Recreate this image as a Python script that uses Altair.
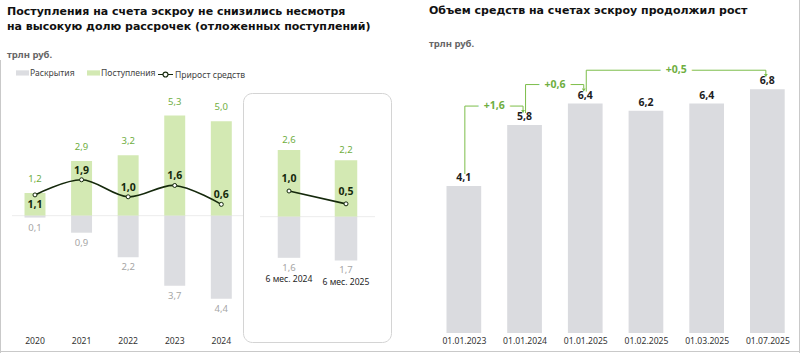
import altair as alt
import pandas as pd

# ---------------- data ----------------
years = ["2020", "2021", "2022", "2023", "2024"]
inflows = [1.2, 2.9, 3.2, 5.3, 5.0]
disclosures = [0.1, 0.9, 2.2, 3.7, 4.4]
net_growth = [1.1, 1.9, 1.0, 1.6, 0.6]

half_periods = ["6 мес. 2024", "6 мес. 2025"]
half_inflows = [2.6, 2.2]
half_disclosures = [1.6, 1.7]
half_growth = [1.0, 0.5]

dates = ["01.01.2023", "01.01.2024", "01.01.2025", "01.02.2025", "01.03.2025", "01.07.2025"]
balances = [4.1, 5.8, 6.4, 6.2, 6.4, 6.8]
change_from = ["01.01.2023", "01.01.2024", "01.01.2025"]
change_to = ["01.01.2024", "01.01.2025", "01.07.2025"]
change_text = ["+1,6", "+0,6", "+0,5"]

left_title = ["Поступления на счета эскроу не снизились несмотря",
              "на высокую долю рассрочек (отложенных поступлений)"]
right_title = ["Объем средств на счетах эскроу продолжил рост"]
unit_text = "трлн руб."
series_names = ["Раскрытия", "Поступления", "Прирост средств"]

# ---------------- style ----------------
FONT = "Noto Sans"
TITLE_FONT = "DejaVu Sans"
GREEN_BAR = "#d3e9b3"
GRAY_BAR = "#dcdde1"
GREEN_TXT = "#6fae3f"
GREEN_LINE = "#7cbd4a"
GRAY_TXT = "#a6a6a6"
DARK = "#15290c"
TXT = "#1e1e1e"
AXIS_TXT = "#333333"
LBL = 9.5


def fmt(v):
    return f"{abs(v):.1f}".replace(".", ",")


# ---------------- tables ----------------
def bar_table(cats, pos, neg):
    rows = []
    for c, p, n in zip(cats, pos, neg):
        rows.append({"cat": c, "type": series_names[1], "value": p, "label": fmt(p)})
        rows.append({"cat": c, "type": series_names[0], "value": -n, "label": fmt(n)})
    return pd.DataFrame(rows)


years_bars = bar_table(years, inflows, disclosures)
years_line = pd.DataFrame({"cat": years, "value": net_growth, "series": series_names[2],
                           "label": [fmt(v) for v in net_growth]})
half_bars = bar_table(half_periods, half_inflows, half_disclosures)
half_line = pd.DataFrame({"cat": half_periods, "value": half_growth, "series": series_names[2],
                          "label": [fmt(v) for v in half_growth]})
half_names = pd.DataFrame({"cat": half_periods, "value": [-d for d in half_disclosures]})

bal = pd.DataFrame({"idx": list(range(len(dates))), "date": dates, "value": balances,
                    "label": [fmt(v) for v in balances]})
fi = [dates.index(d) for d in change_from]
ti = [dates.index(d) for d in change_to]
brackets = pd.DataFrame({
    "from_idx": fi, "to_idx": ti,
    "mid": [(a + b) / 2 for a, b in zip(fi, ti)],
    "v_from": [balances[i] for i in fi],
    "v_to": [balances[i] for i in ti],
    "v_max": [max(balances[a], balances[b]) for a, b in zip(fi, ti)],
    "text": change_text,
})

one = pd.DataFrame({"k": [0]})
zero = pd.DataFrame({"value": [0.0]})

# ---------------- shared encodings ----------------
color_enc = alt.Color("type:N",
                      scale=alt.Scale(domain=series_names[:2], range=[GRAY_BAR, GREEN_BAR]),
                      legend=alt.Legend(orient="none", legendX=16, legendY=66, direction="horizontal",
                                        title=None, symbolType="M-1,-0.4H1V0.4H-1Z", symbolSize=169,
                                        symbolStrokeWidth=0, labelFont=FONT, labelFontSize=8.6,
                                        labelColor="#444444", labelOffset=1, columnPadding=12))
stroke_enc = alt.Stroke("series:N",
                        scale=alt.Scale(domain=[series_names[2]], range=[DARK]),
                        legend=alt.Legend(orient="none", legendX=157, legendY=66, title=None,
                                          symbolType="M-1,0H-0.33M0.33,0H1M-0.33,0A0.33,0.33,0,1,1,0.33,0A0.33,0.33,0,1,1,-0.33,0Z",
                                          symbolSize=225, symbolFillColor="white", symbolStrokeColor=DARK,
                                          symbolStrokeWidth=1.2, labelFont=FONT, labelFontSize=8.6,
                                          labelColor="#444444", labelOffset=1))

# ---------------- group A: years ----------------
XA = alt.X("cat:N", sort=years,
           scale=alt.Scale(range=[11.7, 244.6], paddingInner=0.55, paddingOuter=0.275),
           axis=alt.Axis(orient="bottom", title=None, labelAngle=0, ticks=False, domain=False,
                         grid=False, labelPadding=3, labelFont=FONT, labelFontSize=8.6,
                         labelColor=AXIS_TXT))
YA = alt.Y("value:Q", scale=alt.Scale(domain=[-5, 6], range=[310.2, 102.3], nice=False, zero=False),
           axis=None)

a_bars = alt.Chart(years_bars).mark_bar().encode(x=XA, y=YA, color=color_enc)
a_zero = alt.Chart(zero).mark_rule(color="#ececec", strokeWidth=1).encode(
    x=alt.value(12), x2=alt.value(243), y=YA)
a_pos_lbl = alt.Chart(years_bars).transform_filter(alt.datum.type == series_names[1]).mark_text(
    baseline="bottom", dy=-9, color=GREEN_TXT, font=FONT, fontSize=LBL).encode(x=XA, y=YA, text="label:N")
a_neg_lbl = alt.Chart(years_bars).transform_filter(alt.datum.type == series_names[0]).mark_text(
    baseline="top", dy=5, color=GRAY_TXT, font=FONT, fontSize=LBL).encode(x=XA, y=YA, text="label:N")
a_line = alt.Chart(years_line).mark_line(interpolate="catmull-rom", strokeWidth=1.6).encode(
    x=XA, y=YA, stroke=stroke_enc)
a_pts = alt.Chart(years_line).mark_point(filled=True, fill="white", stroke=DARK, strokeWidth=1,
                                         size=16, opacity=1).encode(x=XA, y=YA)
a_gl_up = alt.Chart(years_line).transform_filter(alt.datum.cat != years[0]).mark_text(
    baseline="bottom", dy=-4, color=DARK, font=FONT, fontSize=10.5, fontWeight="bold").encode(
    x=XA, y=YA, text="label:N")
a_gl_dn = alt.Chart(years_line).transform_filter(alt.datum.cat == years[0]).mark_text(
    baseline="top", dy=5, color=DARK, font=FONT, fontSize=10.5, fontWeight="bold").encode(
    x=XA, y=YA, text="label:N")
group_a = alt.layer(a_zero, a_bars, a_pos_lbl, a_neg_lbl, a_line, a_pts, a_gl_up, a_gl_dn)

# ---------------- group B: half-year box ----------------
XB = alt.X("cat:N", sort=half_periods,
           scale=alt.Scale(range=[260.5, 374.5], paddingInner=0.605, paddingOuter=0.3025),
           axis=None)
YB = alt.Y("value:Q", scale=alt.Scale(domain=[-2, 3], range=[268.1, 139.6], nice=False, zero=False),
           axis=None)

b_box = alt.Chart(one).mark_rect(fill="white", fillOpacity=0, stroke="#d4d4d4", strokeWidth=1,
                                 cornerRadius=9).encode(
    x=alt.value(243.5), x2=alt.value(391.5), y=alt.value(93.5), y2=alt.value(342.5))
b_zero = alt.Chart(zero).mark_rule(color="#ececec", strokeWidth=1).encode(
    x=alt.value(260), x2=alt.value(375), y=YB)
b_bars = alt.Chart(half_bars).mark_bar().encode(x=XB, y=YB, color=color_enc)
b_pos_lbl = alt.Chart(half_bars).transform_filter(alt.datum.type == series_names[1]).mark_text(
    baseline="bottom", dy=-5, color=GREEN_TXT, font=FONT, fontSize=LBL).encode(x=XB, y=YB, text="label:N")
b_neg_lbl = alt.Chart(half_bars).transform_filter(alt.datum.type == series_names[0]).mark_text(
    baseline="top", dy=5, color=GRAY_TXT, font=FONT, fontSize=LBL).encode(x=XB, y=YB, text="label:N")
b_names = alt.Chart(half_names).mark_text(baseline="top", dy=17.5, color=TXT, font=FONT,
                                          fontSize=8.6).encode(x=XB, y=YB, text="cat:N")
b_line = alt.Chart(half_line).mark_line(strokeWidth=1.6).encode(x=XB, y=YB, stroke=stroke_enc)
b_pts = alt.Chart(half_line).mark_point(filled=True, fill="white", stroke=DARK, strokeWidth=1,
                                        size=16, opacity=1).encode(x=XB, y=YB)
b_gl = alt.Chart(half_line).mark_text(baseline="bottom", dy=-7, color=DARK, font=FONT, fontSize=10.5,
                                      fontWeight="bold").encode(x=XB, y=YB, text="label:N")
group_b = alt.layer(b_box, b_zero, b_bars, b_pos_lbl, b_neg_lbl, b_names, b_line, b_pts, b_gl)

# ---------------- group C: balances ----------------
label_expr = "[" + ",".join(f"'{d}'" for d in dates) + "][datum.value]"
XC_SCALE = alt.Scale(domain=[-0.5, len(dates) - 0.5], range=[428.5, 802.7], nice=False, zero=False)
XC_AXIS = alt.Axis(orient="bottom", values=list(range(len(dates))), labelExpr=label_expr, title=None,
                   ticks=False, domain=False, grid=False, labelFlush=False, labelOverlap=False,
                   labelPadding=3, labelFont=FONT, labelFontSize=8.6, labelColor=AXIS_TXT)


def xc(field):
    return alt.X(f"{field}:Q", scale=XC_SCALE, axis=XC_AXIS)


def yc(field):
    return alt.Y(f"{field}:Q", scale=alt.Scale(domain=[0, 8], range=[333, 46.2], nice=False), axis=None)


c_bars = alt.Chart(bal).mark_bar(width=34.7, color="#dadbdf").encode(x=xc("idx"), y=yc("value"))
c_lbl = alt.Chart(bal).mark_text(baseline="bottom", dy=-3, color=TXT, font=FONT, fontSize=10.5,
                                 fontWeight="bold").encode(x=xc("idx"), y=yc("value"), text="label:N")
c_up = alt.Chart(brackets).mark_rule(color=GREEN_LINE, strokeWidth=1, xOffset=1, yOffset=-12,
                                     y2Offset=-19).encode(x=xc("from_idx"), y=yc("v_from"), y2="v_max:Q")
c_h = alt.Chart(brackets).mark_rule(color=GREEN_LINE, strokeWidth=1, xOffset=1, x2Offset=-1.5,
                                    yOffset=-19).encode(x=xc("from_idx"), x2="to_idx:Q", y=yc("v_max"))
c_dn = alt.Chart(brackets).mark_rule(color=GREEN_LINE, strokeWidth=1, xOffset=-1.5, yOffset=-19,
                                     y2Offset=-15).encode(x=xc("to_idx"), y=yc("v_max"), y2="v_to:Q")
c_arrow = alt.Chart(brackets).mark_point(shape="triangle-down", filled=True, color=GREEN_LINE, size=14,
                                         opacity=1, xOffset=-1.5, yOffset=-13.5).encode(
    x=xc("to_idx"), y=yc("v_to"))
c_halo = alt.Chart(brackets).mark_text(color="white", stroke="white", strokeWidth=11, font=FONT,
                                       fontSize=10.5, fontWeight="bold", yOffset=-19).encode(
    x=xc("mid"), y=yc("v_max"), text="text:N")
c_txt = alt.Chart(brackets).mark_text(color=GREEN_TXT, font=FONT, fontSize=10.5, fontWeight="bold",
                                      yOffset=-19).encode(x=xc("mid"), y=yc("v_max"), text="text:N")
group_c = alt.layer(c_bars, c_lbl, c_up, c_h, c_dn, c_arrow, c_halo, c_txt)

# ---------------- decorations / titles ----------------
TS = 11
title_l1 = alt.Chart(pd.DataFrame({"t": [left_title[0]]})).mark_text(
    align="left", baseline="middle", font=TITLE_FONT, fontSize=TS, fontWeight="bold", color="#111111").encode(
    x=alt.value(7), y=alt.value(12), text="t:N")
title_l2 = alt.Chart(pd.DataFrame({"t": [left_title[1]]})).mark_text(
    align="left", baseline="middle", font=TITLE_FONT, fontSize=TS, fontWeight="bold", color="#111111").encode(
    x=alt.value(7), y=alt.value(26.5), text="t:N")
title_right = alt.Chart(pd.DataFrame({"t": right_title})).mark_text(
    align="left", baseline="middle", font=TITLE_FONT, fontSize=TS, fontWeight="bold", color="#111111").encode(
    x=alt.value(429), y=alt.value(11), text="t:N")
unit_l = alt.Chart(pd.DataFrame({"t": [unit_text]})).mark_text(
    align="left", baseline="middle", font=FONT, fontSize=9.5, fontWeight="bold", color="#666666").encode(
    x=alt.value(7), y=alt.value(55), text="t:N")
unit_r = alt.Chart(pd.DataFrame({"t": [unit_text]})).mark_text(
    align="left", baseline="middle", font=FONT, fontSize=9.5, fontWeight="bold", color="#666666").encode(
    x=alt.value(429), y=alt.value(44), text="t:N")
frame_l = alt.Chart(one).mark_rule(color="#c9c9c9").encode(x=alt.value(0.5), y=alt.value(60), y2=alt.value(353))
frame_r = alt.Chart(one).mark_rule(color="#c9c9c9").encode(x=alt.value(799.5), y=alt.value(0), y2=alt.value(353))
frame_b = alt.Chart(one).mark_rule(color="#c9c9c9").encode(x=alt.value(0), x2=alt.value(800), y=alt.value(351.5))

chart = alt.layer(
    group_a, group_b, group_c,
    title_l1, title_l2, title_right, unit_l, unit_r, frame_l, frame_r, frame_b,
).resolve_scale(
    x="independent", y="independent"
).properties(
    width=800, height=333, autosize="none",
    padding={"left": 0, "top": 0, "right": 0, "bottom": 20},
    background="white",
).configure(font=FONT).configure_view(stroke=None)

chart.save("out.html", embed_options={"renderer": "svg", "actions": False})
